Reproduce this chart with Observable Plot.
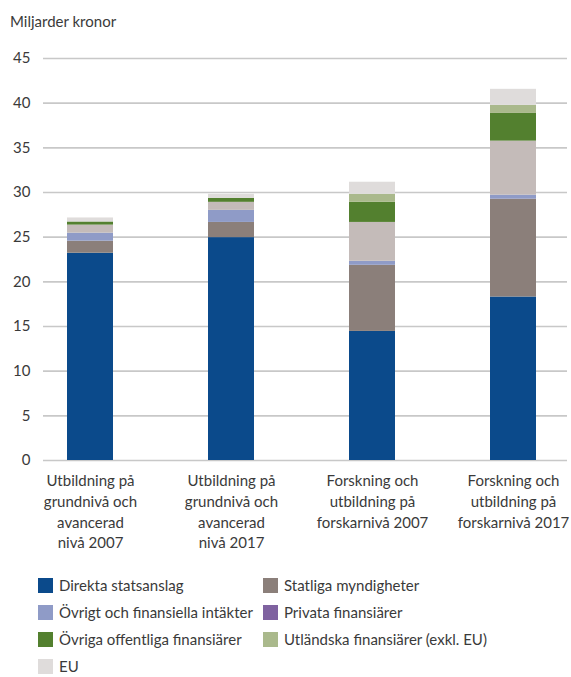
<!DOCTYPE html>
<html>
<head>
<meta charset="utf-8">
<script src="https://cdn.jsdelivr.net/npm/d3@7"></script>
<script src="https://cdn.jsdelivr.net/npm/@observablehq/plot@0.6"></script>
<style>
  body { margin: 0; background: #fff; font-family: Lato, "Open Sans", sans-serif; overflow: hidden; }
  #wrap { position: relative; width: 571px; height: 677px; }
  #title { position: absolute; left: 10px; top: 12px; font-size: 15px; color: #3a3a3a; }
  #chart { position: absolute; left: 0; top: 40px; }
  #legend { position: absolute; left: 0; top: 578px; width: 571px; }
  .li { position: absolute; font-size: 15px; color: #3a3a3a; height: 14px; line-height: 14px; white-space: nowrap; }
  .sw { display: inline-block; width: 15px; height: 15px; vertical-align: -2px; margin-right: 6px; }
</style>
</head>
<body>
<div id="wrap">
  <div id="title">Miljarder kronor</div>
  <div id="chart"></div>
  <div id="legend"></div>
</div>
<script>
const categories = [
  "Utbildning på\ngrundnivå och\navancerad\nnivå 2007",
  "Utbildning på\ngrundnivå och\navancerad\nnivå 2017",
  "Forskning och\nutbildning på\nforskarnivå 2007",
  "Forskning och\nutbildning på\nforskarnivå 2017"
];
const seriesNames = [
  "Direkta statsanslag",
  "Statliga myndigheter",
  "Övrigt och finansiella intäkter",
  "Privata finansiärer",
  "Övriga offentliga finansiärer",
  "Utländska finansiärer (exkl. EU)",
  "EU"
];
// values per series, one per category
const direkta      = [23.2, 24.95, 14.45, 18.3];
const statliga     = [1.35, 1.7, 7.4, 10.95];
const ovrigt       = [0.9, 1.35, 0.45, 0.45];
const privata      = [0.9, 0.9, 4.35, 6.05];
const ovrigaOff    = [0.35, 0.45, 2.25, 3.1];
const utlandska    = [0.0, 0.0, 0.9, 0.9];
const eu           = [0.45, 0.45, 1.35, 1.8];
const yTicks = [0, 5, 10, 15, 20, 25, 30, 35, 40, 45];

const barColors = ["#0b4a8b", "#8b7f7a", "#8f9bc7", "#c4bbb9", "#53802f", "#aab98c", "#dfdcdb"];
const legendColors = ["#0b4a8b", "#8b7f7a", "#8f9bc7", "#7f62a0", "#53802f", "#aab98c", "#dfdcdb"];

const seriesValues = [direkta, statliga, ovrigt, privata, ovrigaOff, utlandska, eu];
const data = [];
seriesNames.forEach((s, si) => {
  categories.forEach((c, ci) => {
    data.push({category: c, series: s, value: seriesValues[si][ci]});
  });
});

const plot = Plot.plot({
  width: 571,
  height: 520,
  marginLeft: 43,
  marginRight: 4,
  marginTop: 18,
  marginBottom: 100,
  style: {fontFamily: "Lato, 'Open Sans', sans-serif", fontSize: "15px", color: "#3a3a3a", background: "transparent"},
  x: {domain: categories, range: [18.25, 583.75], paddingInner: 0.675, paddingOuter: 0.3375, label: null},
  y: {domain: [0, 45], label: null},
  color: {domain: seriesNames, range: barColors},
  marks: [
    Plot.ruleY(yTicks, {stroke: "#c8c8c8", strokeWidth: 1.6}),
    Plot.barY(data, {x: "category", y: "value", fill: "series", z: "series", order: seriesNames}),
    Plot.axisY(yTicks, {tickSize: 0, tickPadding: 0, dx: -13, fontSize: 15, fill: "#3a3a3a"}),
    Plot.axisX({tickSize: 0, tickPadding: 11, fontSize: 15, lineHeight: 1.38, fill: "#3a3a3a"})
  ]
});
document.getElementById("chart").appendChild(plot);

// legend
const leg = document.getElementById("legend");
const positions = [
  [38, 0], [263, 0],
  [38, 27], [263, 27],
  [38, 54], [263, 54],
  [38, 81]
];
seriesNames.forEach((s, i) => {
  const d = document.createElement("div");
  d.className = "li";
  d.style.left = positions[i][0] + "px";
  d.style.top = positions[i][1] + "px";
  d.innerHTML = `<span class="sw" style="background:${legendColors[i]}"></span>${s}`;
  leg.appendChild(d);
});
</script>
</body>
</html>
